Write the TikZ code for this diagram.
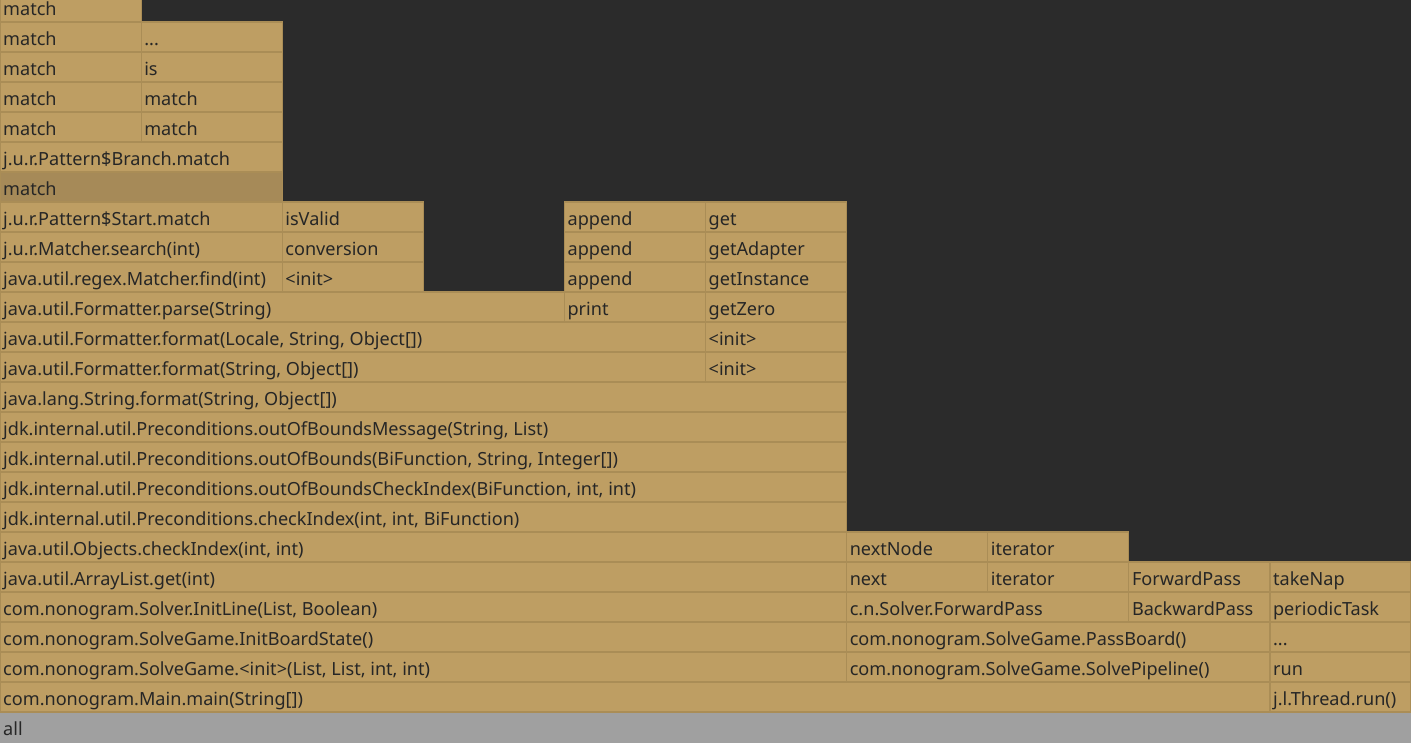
\documentclass[tikz,border=0pt]{standalone}
\usepackage{fontspec}
\setmainfont{Noto Sans}
\definecolor{bgc}{HTML}{2B2B2B}
\definecolor{tan}{HTML}{BE9E63}
\definecolor{tanedge}{HTML}{AA8D56}
\definecolor{tanhi}{HTML}{A68A58}
\definecolor{allc}{HTML}{A0A0A0}
\definecolor{txt}{HTML}{262626}
\tikzset{
  x=1pt,y=1pt,
  box/.style={fill=tan,draw=tanedge,line width=1.2pt},
  hibox/.style={fill=tanhi,draw=tanedge,line width=1.2pt},
  allbox/.style={fill=allc,draw=allc,line width=1.2pt},
  lbl/.style={anchor=base west,inner sep=0pt,text=txt,font=\fontsize{18.1}{20}\selectfont},
}
\newcommand\fb[6][box]{%
  \path[#1] ({#4*141.1},{#3*30}) rectangle ({#5*141.1},{#3*30+30});
  \node[lbl] (#2) at ({#4*141.1+3},{#3*30+6.5}) {#6};}
\begin{document}
\begin{tikzpicture}
\useasboundingbox (0,0) rectangle (1411,742);
\fill[bgc] (0,0) rectangle (1411,742);
\begin{scope}
\clip (0,0) rectangle (1411,742);
\fb[allbox]{all}{0}{0}{10}{all}
\fb{mainm}{1}{0}{9}{com.nonogram.Main.main(String[])}
\fb{thr}{1}{9}{10}{j.l.Thread.run()}
\fb{sginit}{2}{0}{6}{com.nonogram.SolveGame.<init>(List, List, int, int)}
\fb{pipe}{2}{6}{9}{com.nonogram.SolveGame.SolvePipeline()}
\fb{run}{2}{9}{10}{run}
\fb{ibs}{3}{0}{6}{com.nonogram.SolveGame.InitBoardState()}
\fb{pb}{3}{6}{9}{com.nonogram.SolveGame.PassBoard()}
\fb{dots}{3}{9}{10}{...}
\fb{initline}{4}{0}{6}{com.nonogram.Solver.InitLine(List, Boolean)}
\fb{fp}{4}{6}{8}{c.n.Solver.ForwardPass}
\fb{bp}{4}{8}{9}{BackwardPass}
\fb{pt}{4}{9}{10}{periodicTask}
\fb{alget}{5}{0}{6}{java.util.ArrayList.get(int)}
\fb{next}{5}{6}{7}{next}
\fb{iterA}{5}{7}{8}{iterator}
\fb{fpB}{5}{8}{9}{ForwardPass}
\fb{nap}{5}{9}{10}{takeNap}
\fb{oci}{6}{0}{6}{java.util.Objects.checkIndex(int, int)}
\fb{nn}{6}{6}{7}{nextNode}
\fb{iterB}{6}{7}{8}{iterator}
\fb{pci}{7}{0}{6}{jdk.internal.util.Preconditions.checkIndex(int, int, BiFunction)}
\fb{pobci}{8}{0}{6}{jdk.internal.util.Preconditions.outOfBoundsCheckIndex(BiFunction, int, int)}
\fb{pob}{9}{0}{6}{jdk.internal.util.Preconditions.outOfBounds(BiFunction, String, Integer[])}
\fb{pobm}{10}{0}{6}{jdk.internal.util.Preconditions.outOfBoundsMessage(String, List)}
\fb{sfmt}{11}{0}{6}{java.lang.String.format(String, Object[])}
\fb{ffmtA}{12}{0}{5}{java.util.Formatter.format(String, Object[])}
\fb{initA}{12}{5}{6}{<init>}
\fb{ffmtB}{13}{0}{5}{java.util.Formatter.format(Locale, String, Object[])}
\fb{initB}{13}{5}{6}{<init>}
\fb{parse}{14}{0}{4}{java.util.Formatter.parse(String)}
\fb{print}{14}{4}{5}{print}
\fb{zero}{14}{5}{6}{getZero}
\fb{find}{15}{0}{2}{java.util.regex.Matcher.find(int)}
\fb{initC}{15}{2}{3}{<init>}
\fb{appA}{15}{4}{5}{append}
\fb{inst}{15}{5}{6}{getInstance}
\fb{search}{16}{0}{2}{j.u.r.Matcher.search(int)}
\fb{conv}{16}{2}{3}{conversion}
\fb{appB}{16}{4}{5}{append}
\fb{adapt}{16}{5}{6}{getAdapter}
\fb{start}{17}{0}{2}{j.u.r.Pattern\$Start.match}
\fb{valid}{17}{2}{3}{isValid}
\fb{appC}{17}{4}{5}{append}
\fb{get}{17}{5}{6}{get}
\fb[hibox]{mA}{18}{0}{2}{match}
\fb{branch}{19}{0}{2}{j.u.r.Pattern\$Branch.match}
\fb{mB}{20}{0}{1}{match}
\fb{mC}{20}{1}{2}{match}
\fb{mD}{21}{0}{1}{match}
\fb{mE}{21}{1}{2}{match}
\fb{mF}{22}{0}{1}{match}
\fb{is}{22}{1}{2}{is}
\fb{mG}{23}{0}{1}{match}
\fb{dotsB}{23}{1}{2}{...}
\fb{mH}{24}{0}{1}{match}
\end{scope}
\end{tikzpicture}
\end{document}
